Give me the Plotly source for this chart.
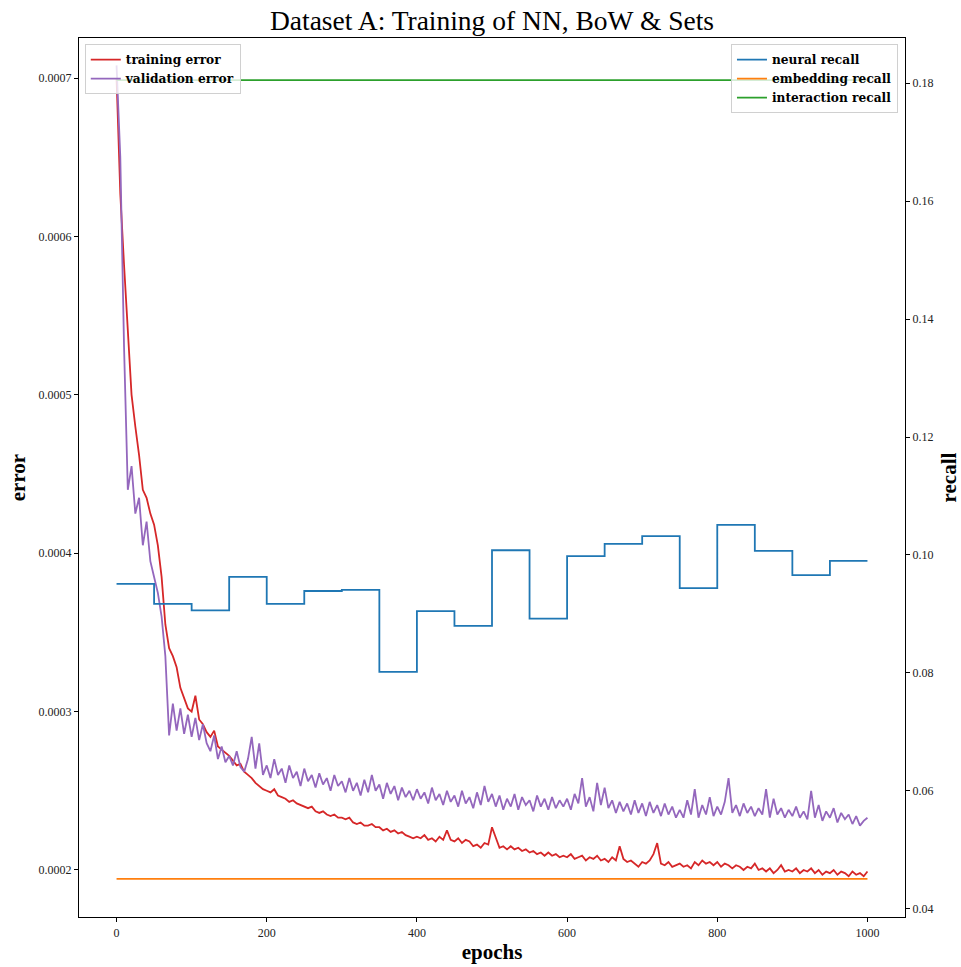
import plotly.graph_objects as go

# ---------------- data ----------------
epochs = list(range(0, 1001, 5))

# training / validation error in units of 1e-4 (read every 5 epochs)
train_error_e4 = [
    7.00, 6.27, 5.82, 5.40, 5.00, 4.80, 4.62, 4.40, 4.35, 4.25,
    4.18, 4.05, 3.85, 3.55, 3.40, 3.35, 3.28, 3.15, 3.08, 3.02,
    3.00, 3.10, 2.95, 2.92, 2.87, 2.84, 2.88, 2.78, 2.76, 2.74,
    2.72, 2.69, 2.66, 2.67, 2.62, 2.60, 2.58, 2.55, 2.53, 2.51,
    2.50, 2.49, 2.51, 2.47, 2.46, 2.45, 2.43, 2.44, 2.42, 2.41,
    2.40, 2.39, 2.40, 2.37, 2.36, 2.37, 2.35, 2.34, 2.35, 2.33,
    2.33, 2.32, 2.33, 2.30, 2.29, 2.30, 2.28, 2.28, 2.29, 2.27,
    2.27, 2.25, 2.26, 2.24, 2.25, 2.23, 2.24, 2.22, 2.21, 2.20,
    2.21, 2.20, 2.22, 2.19, 2.20, 2.18, 2.21, 2.19, 2.25, 2.19,
    2.18, 2.20, 2.17, 2.19, 2.18, 2.15, 2.16, 2.14, 2.17, 2.16,
    2.27, 2.20, 2.14, 2.15, 2.13, 2.15, 2.13, 2.14, 2.12, 2.13,
    2.11, 2.12, 2.10, 2.11, 2.09, 2.11, 2.09, 2.10, 2.08, 2.09,
    2.08, 2.10, 2.07, 2.08, 2.09, 2.06, 2.08, 2.07, 2.09, 2.06,
    2.07, 2.05, 2.08, 2.06, 2.15, 2.07, 2.05, 2.06, 2.04, 2.02,
    2.05, 2.04, 2.06, 2.10, 2.17, 2.04, 2.03, 2.05, 2.02, 2.03,
    2.04, 2.02, 2.03, 2.01, 2.05, 2.03, 2.06, 2.04, 2.05, 2.03,
    2.05, 2.02, 2.04, 2.03, 2.01, 2.03, 2.02, 2.00, 2.02, 2.01,
    2.04, 2.00, 2.01, 1.99, 2.01, 1.98, 2.00, 2.03, 1.99, 2.00,
    1.99, 2.01, 1.98, 2.00, 1.99, 2.01, 1.98, 2.00, 1.97, 1.99,
    1.98, 2.00, 1.97, 1.99, 1.98, 1.96, 1.99, 1.97, 1.98, 1.96, 1.99,
]

valid_error_e4 = [
    7.08, 6.50, 5.30, 4.40, 4.55, 4.25, 4.35, 4.05, 4.20, 3.95,
    3.85, 3.75, 3.60, 3.35, 2.85, 3.05, 2.88, 3.02, 2.86, 2.98,
    2.84, 2.96, 2.82, 2.92, 2.80, 2.75, 2.85, 2.70, 2.78, 2.68,
    2.72, 2.66, 2.75, 2.65, 2.62, 2.70, 2.84, 2.64, 2.80, 2.60,
    2.66, 2.58, 2.70, 2.60, 2.64, 2.55, 2.66, 2.58, 2.62, 2.53,
    2.64, 2.56, 2.60, 2.52, 2.61, 2.54, 2.58, 2.50, 2.60, 2.53,
    2.56, 2.49, 2.58, 2.50, 2.55, 2.47, 2.57, 2.49, 2.60, 2.50,
    2.54, 2.45, 2.55, 2.48, 2.53, 2.44, 2.52, 2.46, 2.50, 2.44,
    2.51, 2.45, 2.49, 2.42, 2.52, 2.44, 2.48, 2.41, 2.50, 2.43,
    2.47, 2.40, 2.50, 2.42, 2.46, 2.39, 2.49, 2.41, 2.53, 2.43,
    2.48, 2.40, 2.47, 2.38, 2.45, 2.40, 2.48, 2.38, 2.46, 2.41,
    2.44, 2.37, 2.47, 2.40, 2.45, 2.38, 2.46, 2.39, 2.44, 2.40,
    2.45, 2.38, 2.48, 2.42, 2.58, 2.40, 2.46, 2.37, 2.55, 2.41,
    2.52, 2.39, 2.44, 2.36, 2.43, 2.37, 2.42, 2.35, 2.44, 2.36,
    2.42, 2.34, 2.43, 2.36, 2.41, 2.34, 2.42, 2.35, 2.40, 2.33,
    2.38, 2.33, 2.44, 2.35, 2.51, 2.33, 2.41, 2.35, 2.46, 2.34,
    2.40, 2.35, 2.43, 2.58, 2.36, 2.41, 2.34, 2.42, 2.36, 2.40,
    2.34, 2.39, 2.35, 2.51, 2.33, 2.45, 2.35, 2.39, 2.33, 2.38,
    2.34, 2.40, 2.33, 2.37, 2.32, 2.50, 2.33, 2.41, 2.31, 2.37,
    2.33, 2.39, 2.30, 2.36, 2.32, 2.35, 2.29, 2.34, 2.28, 2.31, 2.33,
]

recall_epochs = list(range(0, 1001, 50))
neural_recall = [0.0951, 0.0917, 0.0906, 0.0963, 0.0917, 0.0939, 0.0941,
                 0.0802, 0.0905, 0.0880, 0.1008, 0.0892, 0.0998, 0.1019,
                 0.1032, 0.0944, 0.1051, 0.1007, 0.0966, 0.0990, 0.0990]
embedding_recall_value = 0.0451
interaction_recall_value = 0.1805

train_error = [v * 1e-4 for v in train_error_e4]
valid_error = [v * 1e-4 for v in valid_error_e4]
embedding_recall = [embedding_recall_value] * len(epochs)
interaction_recall = [interaction_recall_value] * len(epochs)

# ---------------- figure ----------------
SERIF = "Liberation Serif"
LW = 1.8

fig = go.Figure()
fig.add_trace(go.Scatter(x=epochs, y=train_error, mode="lines", name="training error",
                         line=dict(color="#d62728", width=LW), legend="legend"))
fig.add_trace(go.Scatter(x=epochs, y=valid_error, mode="lines", name="validation error",
                         line=dict(color="#9467bd", width=LW), legend="legend"))
fig.add_trace(go.Scatter(x=recall_epochs, y=neural_recall, mode="lines", name="neural recall",
                         line=dict(color="#1f77b4", width=LW, shape="hv"), yaxis="y2", legend="legend2"))
fig.add_trace(go.Scatter(x=epochs, y=embedding_recall, mode="lines", name="embedding recall",
                         line=dict(color="#ff7f0e", width=LW), yaxis="y2", legend="legend2"))
fig.add_trace(go.Scatter(x=epochs, y=interaction_recall, mode="lines", name="interaction recall",
                         line=dict(color="#2ca02c", width=LW), yaxis="y2", legend="legend2"))

tickfont = dict(family=SERIF, size=12, color="#222")
titlefont = dict(family=SERIF, size=21, color="black", weight="bold")
legfont = dict(family="DejaVu Serif", size=12.2, color="black", weight="bold")

fig.update_layout(
    width=961, height=967,
    margin=dict(l=79, r=56, t=38, b=50),
    paper_bgcolor="white", plot_bgcolor="white",
    title=dict(text="Dataset A: Training of NN, BoW & Sets", x=0.5, xanchor="center",
               xref="paper", y=0.979, yanchor="middle",
               font=dict(family=SERIF, size=27.5, color="black")),
    xaxis=dict(range=[-50, 1050], tickvals=[0, 200, 400, 600, 800, 1000],
               showgrid=False, zeroline=False, showline=True, linecolor="black",
               linewidth=1.3, mirror=True, ticks="outside", ticklen=4, tickcolor="black",
               tickfont=tickfont, automargin=False,
               title=dict(text="epochs", font=titlefont, standoff=5)),
    yaxis=dict(range=[0.0001703, 0.0007253], tickvals=[0.0002, 0.0003, 0.0004, 0.0005, 0.0006, 0.0007],
               tickformat=".4f", showgrid=False, zeroline=False, showline=True,
               linecolor="black", linewidth=1.3, mirror=True, ticks="outside", ticklen=4,
               tickcolor="black", tickfont=tickfont, automargin=False,
               title=dict(text="error", font=titlefont, standoff=7)),
    yaxis2=dict(range=[0.03864, 0.18763], tickvals=[0.04, 0.06, 0.08, 0.10, 0.12, 0.14, 0.16, 0.18],
                tickformat=".2f", overlaying="y", side="right", showgrid=False, zeroline=False,
                showline=True, linecolor="black", linewidth=1.3, ticks="outside", ticklen=4,
                tickcolor="black", tickfont=tickfont, automargin=False,
                title=dict(text="recall", font=titlefont, standoff=9)),
    legend=dict(x=0.007, y=0.993, xanchor="left", yanchor="top", font=legfont,
                bgcolor="rgba(255,255,255,0.8)", bordercolor="#d0d0d0", borderwidth=1,
                tracegroupgap=0, itemwidth=30),
    legend2=dict(x=0.9915, y=0.993, xanchor="right", yanchor="top", font=legfont,
                 bgcolor="rgba(255,255,255,0.8)", bordercolor="#d0d0d0", borderwidth=1,
                 tracegroupgap=0, itemwidth=30),
    showlegend=True,
)

fig.write_html("out.html")
